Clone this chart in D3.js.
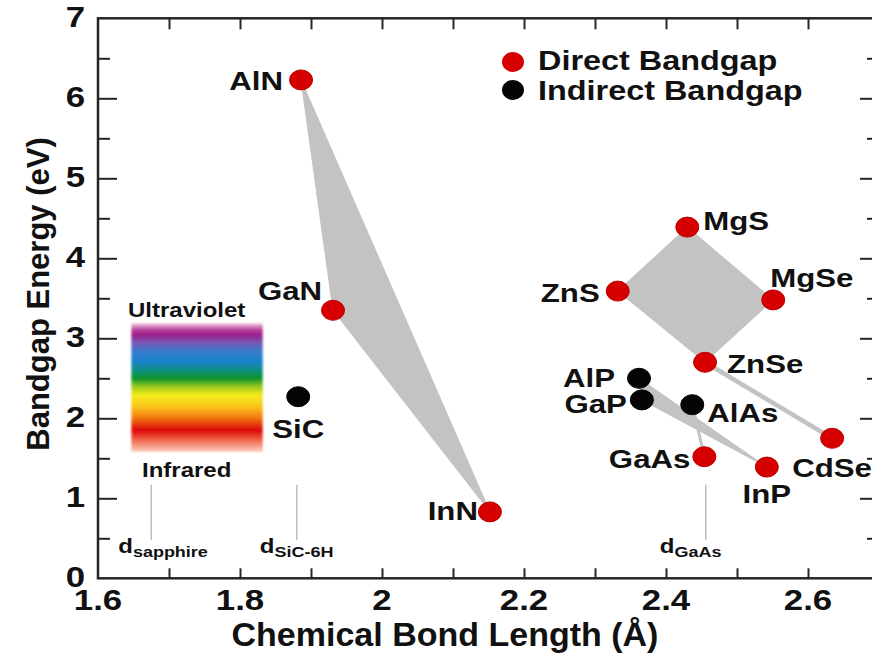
<!DOCTYPE html>
<html>
<head>
<meta charset="utf-8">
<script src="https://cdn.jsdelivr.net/npm/d3@7"></script>
<style>
  html, body { margin: 0; padding: 0; background: #fff; }
  svg { display: block; font-family: "Liberation Sans", Arial, Helvetica, sans-serif; font-weight: bold; }
</style>
</head>
<body>
<svg id="chart" width="872" height="670"></svg>
<script>
// Semiconductor compounds: bond length (Å) and bandgap (eV)
const compounds = ["AlN", "GaN", "InN", "SiC", "MgS", "ZnS", "MgSe", "ZnSe", "CdSe", "AlP", "GaP", "AlAs", "GaAs", "InP"];
const bondLength = [1.886, 1.931, 2.152, 1.882, 2.430, 2.332, 2.551, 2.455, 2.634, 2.362, 2.366, 2.437, 2.454, 2.542];
const bandgap    = [6.23, 3.35, 0.83, 2.27, 4.39, 3.59, 3.48, 2.70, 1.75, 2.50, 2.23, 2.17, 1.52, 1.39];
const gapType    = ["direct", "direct", "direct", "indirect", "direct", "direct", "direct", "direct", "direct", "indirect", "indirect", "indirect", "direct", "direct"];

// Alloy systems drawn as shaded regions / connecting lines
const alloyAreas = [["AlN", "GaN", "InN"], ["ZnS", "MgS", "MgSe", "ZnSe"], ["AlP", "GaP", "InP"]];
const alloyLines = [["ZnSe", "CdSe"], ["GaAs", "AlAs"]];

// Substrate lattice references
const substrates = ["sapphire", "SiC-6H", "GaAs"];
const substrateBond = [1.675, 1.880, 2.456];

// Axis ticks
const xMinorTicks = [1.7, 1.8, 1.9, 2.0, 2.1, 2.2, 2.3, 2.4, 2.5, 2.6];
const xTickLabels = [1.6, 1.8, 2.0, 2.2, 2.4, 2.6];
const yMajorTicks = [0, 1, 2, 3, 4, 5, 6, 7];
const yMinorTicks = [0.5, 1.5, 2.5, 3.5, 4.5, 5.5, 6.5];

// Visible spectrum band (eV) and the bond-length span it occupies
const spectrumEV = [1.58, 3.19];
const spectrumX = [1.647, 1.832];

const W = 872, H = 670;
const svg = d3.select("#chart");
svg.append("rect").attr("width", W).attr("height", H).attr("fill", "#fff");

const x = d3.scaleLinear().domain([1.6, 2.7]).range([98, 879]);
const y = d3.scaleLinear().domain([0, 7]).range([578.3, 18.3]);

const SX = 1.2; // horizontal text stretch
const AX = "#262626";

const defs = svg.append("defs");
const grad = defs.append("linearGradient").attr("id", "spectrum")
  .attr("x1", 0).attr("y1", 0).attr("x2", 0).attr("y2", 1);
[
  [0.00, "#f6d0e6"], [0.05, "#b8449e"], [0.09, "#9c1c88"], [0.15, "#7a56b4"],
  [0.22, "#3a7ccc"], [0.30, "#1682cc"], [0.37, "#0e907a"], [0.43, "#08922c"],
  [0.49, "#94c820"], [0.56, "#f4ec1c"], [0.64, "#fac81a"], [0.73, "#f28010"],
  [0.83, "#dc0806"], [0.90, "#ee5c40"], [1.00, "#fcd0c0"]
].forEach(([o, c]) => grad.append("stop").attr("offset", o).attr("stop-color", c));
defs.append("filter").attr("id", "soft").append("feGaussianBlur").attr("stdDeviation", 0.8);

// spectrum box
svg.append("rect")
  .attr("x", x(spectrumX[0])).attr("width", x(spectrumX[1]) - x(spectrumX[0]))
  .attr("y", y(spectrumEV[1])).attr("height", y(spectrumEV[0]) - y(spectrumEV[1]))
  .attr("fill", "url(#spectrum)").attr("filter", "url(#soft)");

function stretched(sel, px, py) {
  return sel.attr("transform", `translate(${px},${py}) scale(${SX},1)`);
}

stretched(svg.append("text").text("Ultraviolet").attr("font-size", 20).attr("fill", "#111"), 128, 317);
stretched(svg.append("text").text("Infrared").attr("font-size", 20).attr("fill", "#111"), 142, 477);

// substrate markers
substrates.forEach((s, i) => {
  const px = x(substrateBond[i]);
  svg.append("line").attr("x1", px).attr("x2", px)
    .attr("y1", y(1.17)).attr("y2", y(0.48))
    .attr("stroke", "#bdbdbd").attr("stroke-width", 1.5);
  const offs = { "sapphire": -33, "SiC-6H": -37, "GaAs": -46 }[s];
  const t = stretched(svg.append("text").attr("fill", "#111"), px + offs, 553);
  t.append("tspan").text("d").attr("font-size", 20);
  t.append("tspan").text(s).attr("font-size", 15).attr("dy", 4);
});

const pt = {};
compounds.forEach((c, i) => pt[c] = [x(bondLength[i]), y(bandgap[i])]);

// shaded alloy regions
svg.selectAll("polygon.alloy").data(alloyAreas).join("polygon")
  .attr("class", "alloy")
  .attr("points", d => d.map(c => pt[c].join(",")).join(" "))
  .attr("fill", "#c3c3c3").attr("stroke", "#c3c3c3").attr("stroke-width", 1);

svg.selectAll("line.alloy").data(alloyLines).join("line")
  .attr("class", "alloy")
  .attr("x1", d => pt[d[0]][0]).attr("y1", d => pt[d[0]][1])
  .attr("x2", d => pt[d[1]][0]).attr("y2", d => pt[d[1]][1])
  .attr("stroke", "#c3c3c3").attr("stroke-width", (d, i) => i === 0 ? 4.5 : 3);

// compound markers
const dotColor = { direct: "#d60000", indirect: "#050505" };
svg.selectAll("ellipse.pt").data(compounds).join("ellipse")
  .attr("class", "pt")
  .attr("cx", c => pt[c][0]).attr("cy", c => pt[c][1])
  .attr("rx", 11.5).attr("ry", 10)
  .attr("fill", (c, i) => dotColor[gapType[i]])
  .attr("stroke", (c, i) => gapType[i] === "direct" ? "#b80000" : "#000").attr("stroke-width", 1);

// label placement: [dx, dy, anchor]
const place = {
  "AlN": [-18, 10, "end"], "GaN": [-11, -10, "end"], "InN": [-12, 8, "end"],
  "SiC": [0, 41, "middle"], "MgS": [16, 3, "start"], "ZnS": [-18, 11, "end"],
  "MgSe": [-3, -13, "start"], "ZnSe": [22, 11, "start"], "CdSe": [-40, 39, "start"],
  "AlP": [-24, 9, "end"], "GaP": [-15, 13, "end"], "AlAs": [15, 17, "start"],
  "GaAs": [-14, 11, "end"], "InP": [0, 36, "middle"]
};
compounds.forEach(c => {
  const [dx, dy, anchor] = place[c];
  stretched(svg.append("text").text(c).attr("font-size", 26).attr("fill", "#111")
    .attr("text-anchor", anchor), pt[c][0] + dx, pt[c][1] + dy);
});

// legend
const legend = [["Direct Bandgap", "direct", 62, 70], ["Indirect Bandgap", "indirect", 90, 100]];
legend.forEach(([label, type, cy, base]) => {
  svg.append("ellipse").attr("cx", 513).attr("cy", cy).attr("rx", 11).attr("ry", 10)
    .attr("fill", dotColor[type]);
  stretched(svg.append("text").text(label).attr("font-size", 27).attr("fill", "#111"), 538, base);
});

// axes
svg.append("rect").attr("x", x(1.6)).attr("y", y(7))
  .attr("width", x(2.7) - x(1.6)).attr("height", y(0) - y(7))
  .attr("fill", "none").attr("stroke", AX).attr("stroke-width", 2.5);

function tickStyle(g) {
  g.select(".domain").remove();
  g.selectAll(".tick line").attr("stroke", AX).attr("stroke-width", 2);
}
svg.append("g").attr("transform", `translate(0,${y(0)})`)
  .call(d3.axisBottom(x).tickValues(xMinorTicks).tickSize(-10).tickFormat(""))
  .call(tickStyle);
svg.append("g").attr("transform", `translate(0,${y(7)})`)
  .call(d3.axisTop(x).tickValues(xMinorTicks).tickSize(-11).tickFormat(""))
  .call(tickStyle);
svg.append("g").attr("transform", `translate(${x(1.6)},0)`)
  .call(d3.axisLeft(y).tickValues(yMajorTicks.slice(1, -1)).tickSize(-19).tickFormat(""))
  .call(tickStyle);
svg.append("g").attr("transform", `translate(${x(1.6)},0)`)
  .call(d3.axisLeft(y).tickValues(yMinorTicks).tickSize(-12).tickFormat(""))
  .call(tickStyle);
svg.append("g").attr("transform", `translate(${x(2.7)},0)`)
  .call(d3.axisRight(y).tickValues(yMajorTicks.slice(1, -1)).tickSize(-19).tickFormat(""))
  .call(tickStyle);
svg.append("g").attr("transform", `translate(${x(2.7)},0)`)
  .call(d3.axisRight(y).tickValues(yMinorTicks).tickSize(-12).tickFormat(""))
  .call(tickStyle);

// tick labels
xTickLabels.forEach(v => {
  stretched(svg.append("text").text(d3.format("~g")(v)).attr("font-size", 29)
    .attr("text-anchor", "middle").attr("fill", "#111"), x(v), 610);
});
yMajorTicks.forEach(v => {
  stretched(svg.append("text").text(v).attr("font-size", 29)
    .attr("text-anchor", "end").attr("fill", "#111"), 85, y(v) + 9);
});

// axis titles
svg.append("text").text("Chemical Bond Length (Å)")
  .attr("x", 445).attr("y", 646).attr("text-anchor", "middle")
  .attr("font-size", 34).attr("fill", "#111");
svg.append("text").text("Bandgap Energy (eV)")
  .attr("transform", `translate(49,${294}) rotate(-90)`).attr("text-anchor", "middle")
  .attr("font-size", 31).attr("fill", "#111");
</script>
</body>
</html>
